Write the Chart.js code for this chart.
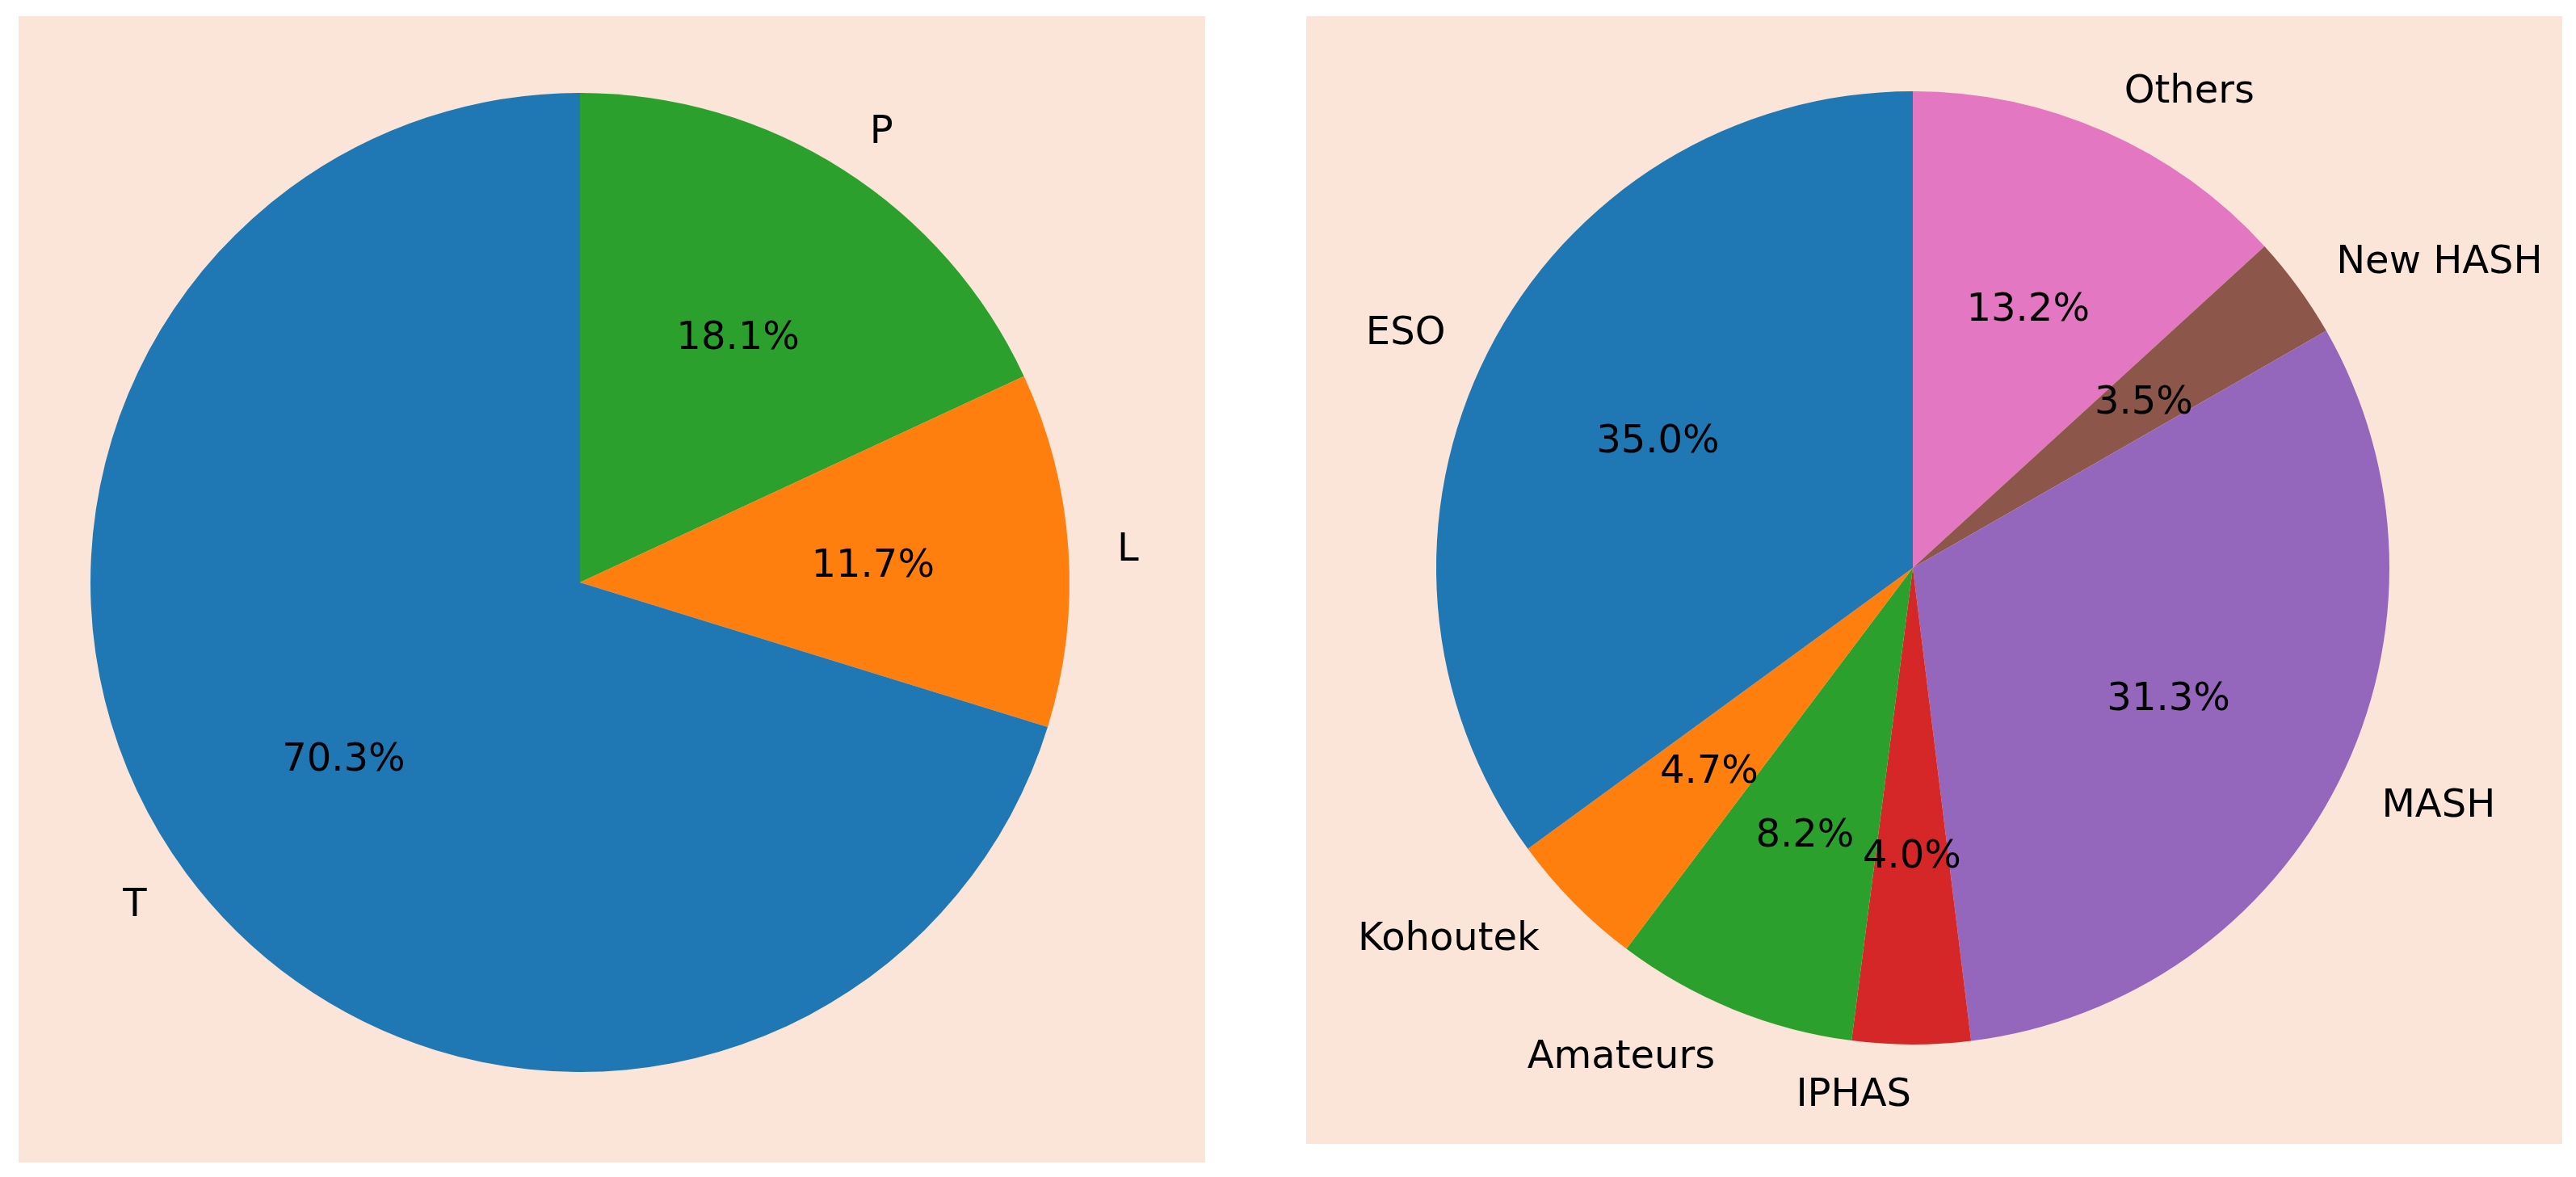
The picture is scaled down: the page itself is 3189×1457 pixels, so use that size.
<!DOCTYPE html>
<html>
<head>
<meta charset="utf-8">
<script src="https://cdn.jsdelivr.net/npm/chart.js@4"></script>
<style>
  html, body { margin: 0; padding: 0; background: #ffffff; }
  body { width: 3189px; height: 1457px; position: relative; overflow: hidden; }
  .panel { position: absolute; background: #FAE5D8; }
  #p1 { left: 23px; top: 20px; width: 1469px; height: 1419px; }
  #p2 { left: 1617px; top: 20px; width: 1555px; height: 1396px; }
  canvas { display: block; }
</style>
</head>
<body>
<div class="panel" id="p1"><canvas id="c1" width="1469" height="1419"></canvas></div>
<div class="panel" id="p2"><canvas id="c2" width="1555" height="1396"></canvas></div>
<script>
// Left pie (listed clockwise from top)
const leftLabels = ['P', 'L', 'T'];
const leftValues = [18.1, 11.7, 70.3];
const leftColors = ['#2ca02c', '#ff7f0e', '#1f77b4'];

// Right pie (listed clockwise from top)
const rightLabels = ['Others', 'New HASH', 'MASH', 'IPHAS', 'Amateurs', 'Kohoutek', 'ESO'];
const rightValues = [13.2, 3.5, 31.3, 4.0, 8.2, 4.7, 35.0];
const rightColors = ['#e377c2', '#8c564b', '#9467bd', '#d62728', '#2ca02c', '#ff7f0e', '#1f77b4'];

const FONT = '48px "DejaVu Sans", sans-serif';
const TEXT_DY = 5;

const pieLabels = {
  id: 'pieLabels',
  afterDatasetsDraw(chart) {
    const ctx = chart.ctx;
    const meta = chart.getDatasetMeta(0);
    const ds = chart.data.datasets[0];
    ctx.save();
    ctx.font = FONT;
    ctx.fillStyle = '#000000';
    ctx.textBaseline = 'middle';
    meta.data.forEach((arc, i) => {
      const p = arc.getProps(['x', 'y', 'startAngle', 'endAngle', 'outerRadius'], true);
      const mid = (p.startAngle + p.endAngle) / 2;
      const c = Math.cos(mid), s = Math.sin(mid);
      const lx = p.x + c * p.outerRadius * 1.1;
      const ly = p.y + s * p.outerRadius * 1.1 + TEXT_DY;
      ctx.textAlign = c > 0 ? 'left' : 'right';
      ctx.fillText(chart.data.labels[i], lx, ly);
      const px = p.x + c * p.outerRadius * 0.6;
      const py = p.y + s * p.outerRadius * 0.6 + TEXT_DY;
      ctx.textAlign = 'center';
      ctx.fillText(Number(ds.data[i]).toFixed(1) + '%', px, py);
    });
    ctx.restore();
  }
};

function makePie(id, labels, values, colors, padding) {
  return new Chart(document.getElementById(id), {
    type: 'pie',
    data: {
      labels: labels,
      datasets: [{
        data: values,
        backgroundColor: colors,
        borderWidth: 0
      }]
    },
    options: {
      responsive: false,
      animation: false,
      devicePixelRatio: 1,
      layout: { padding: padding },
      plugins: {
        legend: { display: false },
        tooltip: { enabled: false }
      }
    },
    plugins: [pieLabels]
  });
}

makePie('c1', leftLabels, leftValues, leftColors, { left: 89, top: 95, right: 168, bottom: 112 });
makePie('c2', rightLabels, rightValues, rightColors, { left: 161, top: 93, right: 214, bottom: 123 });
</script>
</body>
</html>
